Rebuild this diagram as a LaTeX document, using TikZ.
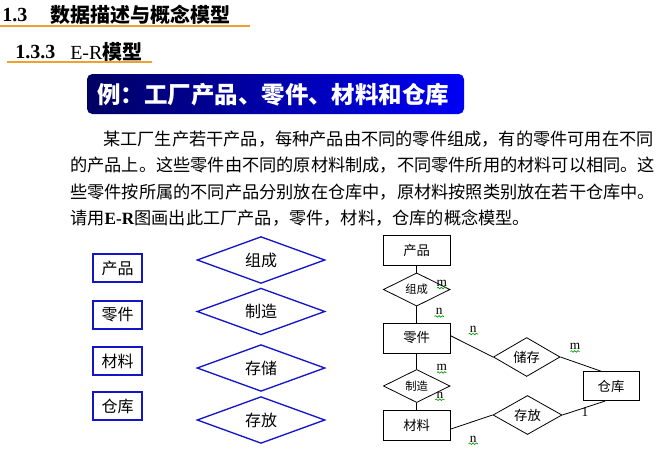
\documentclass[tikz,border=0pt]{standalone}
\usepackage{fontspec}
\setmainfont{Liberation Serif}
\newfontfamily\cjk{Noto Sans CJK SC}
\usetikzlibrary{shapes.geometric,decorations.pathmorphing}

\definecolor{titleorange}{RGB}{240,160,48}
\definecolor{bannerdark}{RGB}{0,0,100}
\definecolor{bannerlight}{RGB}{0,0,245}
\definecolor{erblue}{RGB}{20,20,200}
\definecolor{spellgreen}{RGB}{0,160,0}

\begin{document}
\begin{tikzpicture}[
    x=0.75pt, y=-0.75pt,
    heading/.style={anchor=west, inner sep=0pt, font=\fontsize{15}{18}\selectfont\bfseries},
    bodyline/.style={anchor=west, inner sep=0pt, font=\fontsize{12.9}{15}\selectfont\cjk},
    entity/.style={draw=erblue, line width=1pt, fill=white, minimum width=36.75pt, minimum height=21pt, inner sep=0pt, font=\fontsize{12}{14}\selectfont\cjk},
    relation/.style={diamond, draw=erblue, line width=1pt, minimum width=96pt, minimum height=31.5pt, inner sep=0pt, font=\fontsize{12}{14}\selectfont\cjk},
    erbox/.style={draw, line width=0.6pt, fill=white, minimum width=50pt, minimum height=22.5pt, inner sep=0pt, font=\fontsize{10}{12}\selectfont\cjk},
    erdiamond/.style={diamond, draw, line width=0.6pt, fill=white, minimum width=50pt, minimum height=21.75pt, inner sep=0pt, font=\fontsize{8.5}{10}\selectfont\cjk},
    card/.style={inner sep=0pt, font=\fontsize{10}{11}\selectfont},
    squig/.style={spellgreen, line width=0.5pt, decorate, decoration={snake, amplitude=0.6pt, segment length=2.5pt}},
    link/.style={line width=0.6pt}
]
\fill[white] (0,0) rectangle (671,450);
\useasboundingbox (0,0) rectangle (671,450);

% Headings
\node[heading] (sec) at (2,15) {1.3};
\node[heading] (sectitle) at (50,15) {\cjk 数据描述与概念模型};
\draw[titleorange, line width=1.5pt] (0,26) -- (250,26);
\node[heading] (subsec) at (15,52) {1.3.3};
\node[heading] (subtitle) at (70,52) {\mdseries E-R\cjk\bfseries 模型};
\draw[titleorange, line width=1.5pt] (7,62) -- (152,62);

% Banner
\shade[left color=bannerdark, right color=bannerlight, rounded corners=4pt] (87,74) rectangle (464,114);
\node[anchor=west, inner sep=0pt, text=white, font=\fontsize{17.6}{20}\selectfont\cjk\bfseries] (banner) at (97,94.5) {例：工厂产品、零件、材料和仓库};

% Problem text
\node[bodyline] (line1) at (103,139) {某工厂生产若干产品，每种产品由不同的零件组成，有的零件可用在不同};
\node[bodyline] (line2) at (70,165.5) {的产品上。这些零件由不同的原材料制成，不同零件所用的材料可以相同。这};
\node[bodyline] (line3) at (70,192) {些零件按所属的不同产品分别放在仓库中，原材料按照类别放在若干仓库中。};
\node[bodyline] (line4) at (70,218.5) {请用\textbf{\rmfamily E-R}图画出此工厂产品，零件，材料，仓库的概念模型。};

% Entities and relationships
\node[entity] (product) at (117.5,268) {产品};
\node[entity] (part) at (117.5,315) {零件};
\node[entity] (material) at (117.5,361) {材料};
\node[entity] (warehouse) at (117.5,406) {仓库};
\node[relation] (compose) at (261,260) {组成};
\node[relation] (make) at (261,311.5) {制造};
\node[relation] (store) at (261,368) {存储};
\node[relation] (keep) at (261,420) {存放};

% E-R diagram
\node[erbox] (rproduct) at (416.7,250) {产品};
\node[erdiamond] (rcompose) at (416.7,289.5) {组成};
\node[erbox] (rpart) at (416.7,338) {零件};
\node[erdiamond] (rmake) at (416.7,386) {制造};
\node[erbox] (rmaterial) at (416.7,425) {材料};
\node[erdiamond, font=\fontsize{10}{12}\selectfont\cjk] (rstore) at (526.7,357) {储存};
\node[erbox, minimum width=42pt, minimum height=21.75pt] (rwarehouse) at (611,386.2) {仓库};
\node[erdiamond, minimum width=51.75pt, font=\fontsize{10}{12}\selectfont\cjk] (rkeep) at (527.5,415) {存放};

\draw[link] (rproduct) -- (rcompose);
\draw[link] (rcompose) -- (rpart);
\draw[link] (rpart) -- (rmake);
\draw[link] (rmake) -- (rmaterial);
\draw[link] (rpart.4) -- (rstore.west);
\draw[link] (rstore.east) -- (rwarehouse.123);
\draw[link] (rmaterial.-7) -- (rkeep.west);
\draw[link] (rkeep.east) -- (rwarehouse.-112);

% Cardinalities
\node[card] (m1) at (441.7,283.3) {m};
\node[card] (n1) at (439.3,311.7) {n};
\node[card] (n2) at (473.3,329.3) {n};
\node[card] (m2) at (575,346.7) {m};
\node[card] (m3) at (441.7,367.7) {m};
\node[card] (n3) at (440,395) {n};
\node[card] (one) at (585,411.7) {1};
\node[card] (n4) at (473.3,439) {n};
\foreach \c in {m1,n1,n2,m2,m3,n3,n4}
    \draw[squig] ([xshift=-3.5pt,yshift=-1pt]\c.south) -- ([xshift=3.5pt,yshift=-1pt]\c.south);

\end{tikzpicture}
\end{document}
